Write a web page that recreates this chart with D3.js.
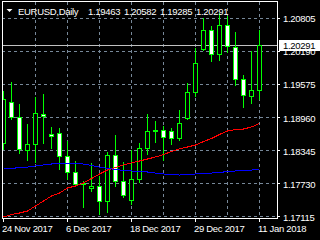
<!DOCTYPE html>
<html>
<head>
<meta charset="utf-8">
<script src="https://cdn.jsdelivr.net/npm/d3@7"></script>
<style>
  html, body { margin: 0; padding: 0; background: #000; }
  svg { display: block; background: #000; }
  text { font-family: 'Liberation Sans', Arial, sans-serif; font-size: 9.5px; letter-spacing: -0.3px; fill: #fff; }
  .grid line { stroke: #778899; stroke-dasharray: 3, 3; shape-rendering: crispEdges; }
  .axis line { stroke: #fff; shape-rendering: crispEdges; }
  .axis text { font-family: 'Liberation Sans', Arial, sans-serif; font-size: 9.5px; }
</style>
</head>
<body>
<svg id="chart" width="320" height="240"></svg>
<script>
// EURUSD daily bars
const dates = ['2017-11-24', '2017-11-27', '2017-11-28', '2017-11-29', '2017-11-30', '2017-12-01',
  '2017-12-04', '2017-12-05', '2017-12-06', '2017-12-07', '2017-12-08', '2017-12-11', '2017-12-12',
  '2017-12-13', '2017-12-14', '2017-12-15', '2017-12-18', '2017-12-19', '2017-12-20', '2017-12-21',
  '2017-12-22', '2017-12-26', '2017-12-27', '2017-12-28', '2017-12-29', '2018-01-02', '2018-01-03',
  '2018-01-04', '2018-01-05', '2018-01-08', '2018-01-09', '2018-01-10', '2018-01-11'];

const open = [1.18470, 1.19234, 1.18954, 1.18345, 1.18451, 1.19016, 1.18643, 1.18656, 1.18228, 1.17930,
  1.17730, 1.17624, 1.17674, 1.17382, 1.18252, 1.17754, 1.17401, 1.17799, 1.18377, 1.18686, 1.18705,
  1.18686, 1.18563, 1.18936, 1.19420, 1.20222, 1.20568, 1.20128, 1.20669, 1.20259, 1.19663, 1.19346, 1.19463];
const high = [1.19445, 1.19612, 1.19202, 1.18824, 1.19320, 1.19389, 1.18774, 1.18749, 1.18513, 1.18140,
  1.17758, 1.18097, 1.17861, 1.18302, 1.18625, 1.18112, 1.18332, 1.18470, 1.19010, 1.18886, 1.18792,
  1.18749, 1.19091, 1.19588, 1.20240, 1.20799, 1.20656, 1.20893, 1.20842, 1.20531, 1.19743, 1.20177, 1.20582];
const low = [1.18354, 1.18923, 1.18284, 1.18146, 1.18108, 1.18476, 1.18382, 1.17985, 1.17799, 1.17661,
  1.17274, 1.17581, 1.17152, 1.17190, 1.17674, 1.17469, 1.17339, 1.17736, 1.18271, 1.18481, 1.18146,
  1.18451, 1.18518, 1.18923, 1.19338, 1.20209, 1.19991, 1.20022, 1.20166, 1.19543, 1.19141, 1.19215, 1.19285];
const close = [1.19290, 1.18951, 1.18358, 1.18453, 1.19029, 1.18966, 1.18593, 1.18220, 1.17922, 1.17706,
  1.17702, 1.17674, 1.17382, 1.18252, 1.17754, 1.17493, 1.17799, 1.18377, 1.18699, 1.18718, 1.18582,
  1.18563, 1.18843, 1.19420, 1.19961, 1.20568, 1.20134, 1.20669, 1.20270, 1.19663, 1.19364, 1.19463, 1.20291];

// moving averages
const maRed = [1.17096, 1.17143, 1.17171, 1.17208, 1.17301, 1.17395, 1.17488, 1.17544, 1.17637, 1.17674,
  1.17730, 1.17814, 1.17898, 1.17972, 1.18019, 1.18066, 1.18103, 1.18140, 1.18177, 1.18215, 1.18261,
  1.18317, 1.18364, 1.18401, 1.18438, 1.18503, 1.18559, 1.18634, 1.18699, 1.18727, 1.18736, 1.18774, 1.18839];
const maBlue = [1.18000, 1.18000, 1.18019, 1.18028, 1.18047, 1.18066, 1.18084, 1.18093, 1.18093, 1.18093,
  1.18084, 1.18056, 1.18028, 1.18000, 1.17982, 1.17963, 1.17954, 1.17944, 1.17935, 1.17916, 1.17898,
  1.17889, 1.17879, 1.17889, 1.17898, 1.17907, 1.17916, 1.17926, 1.17944, 1.17954, 1.17963, 1.17972, 1.17982];

const priceTicks = [1.17115, 1.17730, 1.18345, 1.18960, 1.19575, 1.20190, 1.20805];
const dateTicks = ['2017-11-24', '2017-12-06', '2017-12-18', '2017-12-29', '2018-01-11'];
const symbol = 'EURUSD,Daily';

const plotLeft = 2, plotRight = 277, plotTop = 2, plotBottom = 218;
const svg = d3.select('#chart');

const x = d3.scalePoint().domain(dates).range([3.5, 259.5]);
const y = d3.scaleLinear().domain([1.17078, 1.21103]).range([plotBottom, plotTop]);
const py = v => Math.floor(y(v) + 0.05) + 0.5;

const bars = dates.map((d, i) => ({ date: d, o: open[i], h: high[i], l: low[i], c: close[i] }));
const last = bars[bars.length - 1];

svg.append('defs').append('clipPath').attr('id', 'plot')
  .append('rect')
  .attr('x', plotLeft).attr('y', plotTop)
  .attr('width', plotRight - plotLeft).attr('height', plotBottom - plotTop);

const plot = svg.append('g').attr('clip-path', 'url(#plot)');

// grid
const grid = plot.append('g').attr('class', 'grid');
grid.selectAll('.gy').data(priceTicks).enter().append('line')
  .attr('x1', plotLeft).attr('x2', plotRight)
  .attr('y1', d => Math.round(y(d)) + 0.5)
  .attr('y2', d => Math.round(y(d)) + 0.5);
grid.selectAll('.gx').data(dates.filter((d, i) => i > 0 && i % 4 === 0)).enter().append('line')
  .attr('x1', d => x(d)).attr('x2', d => x(d))
  .attr('y1', plotTop).attr('y2', plotBottom);

// bid line
plot.append('line')
  .attr('x1', plotLeft).attr('x2', plotRight)
  .attr('y1', py(last.c)).attr('y2', py(last.c))
  .attr('stroke', '#c0c0c0')
  .attr('shape-rendering', 'crispEdges');

// candles
const candles = plot.selectAll('.candle').data(bars).enter().append('g')
  .attr('shape-rendering', 'crispEdges');
candles.append('line')
  .attr('x1', d => x(d.date)).attr('x2', d => x(d.date))
  .attr('y1', d => py(d.h) - 0.5)
  .attr('y2', d => py(d.l) + 0.5)
  .attr('stroke', '#00ff00');
candles.append('rect')
  .attr('x', d => x(d.date) - 2)
  .attr('width', 4)
  .attr('y', d => py(Math.max(d.o, d.c)))
  .attr('height', d => py(Math.min(d.o, d.c)) - py(Math.max(d.o, d.c)))
  .attr('fill', d => (d.c > d.o ? '#000' : '#fff'))
  .attr('stroke', '#00ff00');

// moving averages
const maLine = vals => d3.line().x((d, i) => x(dates[i])).y(d => y(d))(vals);
plot.append('path').attr('d', maLine(maRed))
  .attr('fill', 'none').attr('stroke', '#ff0000').attr('shape-rendering', 'crispEdges');
plot.append('path').attr('d', maLine(maBlue))
  .attr('fill', 'none').attr('stroke', '#0000ff').attr('shape-rendering', 'crispEdges');

// frame
svg.append('rect')
  .attr('x', plotLeft + 0.5).attr('y', 1.5)
  .attr('width', plotRight - plotLeft).attr('height', plotBottom - 1)
  .attr('fill', 'none').attr('stroke', '#fff')
  .attr('shape-rendering', 'crispEdges');

// price axis
const yAxis = svg.append('g')
  .attr('class', 'axis')
  .attr('color', '#fff')
  .attr('transform', `translate(${plotRight},0)`)
  .call(d3.axisRight(y).tickValues(priceTicks).tickFormat(d3.format('.5f'))
    .tickSize(3).tickPadding(3).offset(0.5));
yAxis.select('.domain').remove();
yAxis.selectAll('text').attr('dy', '0.42em');

// date axis
const fmtDate = d => d3.timeFormat('%-d %b %Y')(d3.timeParse('%Y-%m-%d')(d));
const xAxis = svg.append('g')
  .attr('class', 'axis')
  .attr('color', '#fff')
  .attr('transform', `translate(0,${plotBottom})`)
  .call(d3.axisBottom(x).tickValues(dateTicks).tickFormat(fmtDate).tickSize(4).offset(0));
xAxis.select('.domain').remove();
xAxis.selectAll('text')
  .attr('text-anchor', 'start')
  .attr('x', -1.5)
  .attr('y', 14)
  .attr('dy', 0);

// current price label
const bidY = py(last.c) - 0.5;
svg.append('rect')
  .attr('x', 279).attr('y', bidY - 5)
  .attr('width', 41).attr('height', 11)
  .attr('fill', '#fff');
svg.append('text')
  .attr('x', 283).attr('y', bidY + 4)
  .style('fill', '#000')
  .text(d3.format('.5f')(last.c));

// header
svg.append('path').attr('d', 'M6.5,9L12.5,9L9.5,12Z').attr('fill', '#fff');
svg.append('text').attr('x', 18).attr('y', 14.5).text(symbol);
svg.selectAll('.ohlc').data([last.o, last.h, last.l, last.c]).enter().append('text')
  .attr('x', (d, i) => 88 + 36 * i)
  .attr('y', 14.5)
  .text(d => d3.format('.5f')(d));
</script>
</body>
</html>
